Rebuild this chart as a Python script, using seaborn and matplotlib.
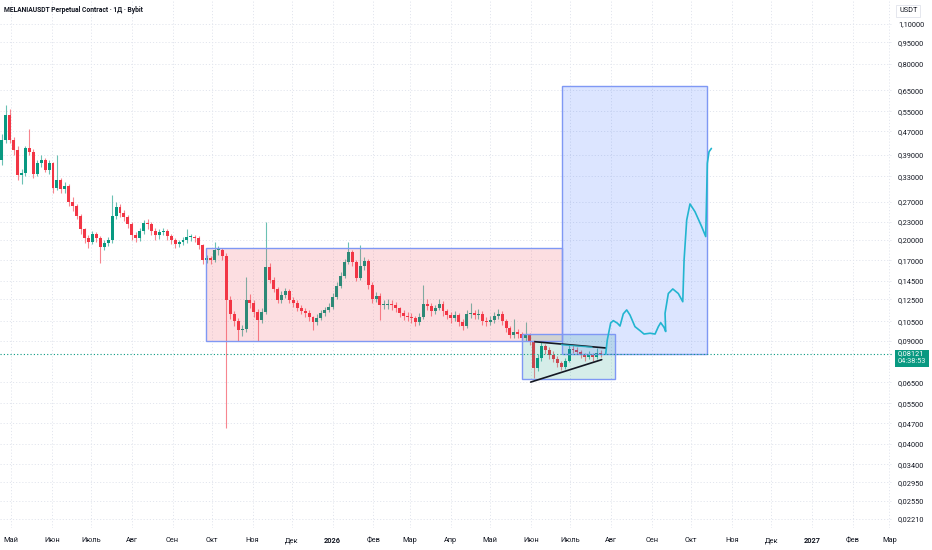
import numpy as np
import pandas as pd
import matplotlib
matplotlib.use("Agg")
import matplotlib.pyplot as plt
import matplotlib.dates as mdates
from matplotlib.patches import Rectangle
from matplotlib.ticker import FixedLocator, NullLocator
import seaborn as sns

# ---------------- data ----------------
TITLE = "MELANIAUSDT Perpetual Contract · 1Д · Bybit"
CANDLE_START = "2025-04-24"
CANDLE_STEP = "3D"
first_open = 0.375

closes = [
    0.439, 0.535, 0.439, 0.406, 0.333, 0.338, 0.412, 0.399, 0.336, 0.366,
    0.375, 0.347, 0.366, 0.301, 0.320, 0.299, 0.306, 0.270, 0.261, 0.241,
    0.217, 0.203, 0.1965, 0.209, 0.203, 0.189, 0.195, 0.1996, 0.241, 0.259,
    0.247, 0.239, 0.226, 0.2076, 0.203, 0.2145, 0.228, 0.226, 0.2145, 0.2076,
    0.213, 0.2145, 0.206, 0.1996, 0.1935, 0.1965, 0.1996, 0.2043, 0.2043, 0.203,
    0.1919, 0.1704, 0.1732, 0.1704, 0.1844, 0.1844, 0.176, 0.1244, 0.1113, 0.1054,
    0.0981, 0.0989, 0.1244, 0.1214, 0.1131, 0.1062, 0.1131, 0.1613, 0.1456, 0.1357,
    0.1244, 0.1294, 0.1336, 0.1244, 0.1214, 0.1168, 0.114, 0.1122, 0.1088, 0.1046,
    0.1079, 0.1122, 0.1149, 0.1177, 0.1274, 0.1392, 0.1503, 0.1678, 0.1815, 0.1678,
    0.148, 0.1626, 0.169, 0.140, 0.1254, 0.1284, 0.1196, 0.1196, 0.1205, 0.1196,
    0.1168, 0.1122, 0.1096, 0.1088, 0.1079, 0.1046, 0.1088, 0.1205, 0.1186, 0.114,
    0.1168, 0.1205, 0.114, 0.1105, 0.1079, 0.1105, 0.1046, 0.1013, 0.1113, 0.1122,
    0.1105, 0.1113, 0.1054, 0.1046, 0.1062, 0.1096, 0.1113, 0.1054, 0.0998, 0.0943,
    0.0966, 0.095, 0.0922, 0.0943, 0.0893, 0.0727, 0.0787, 0.0865, 0.0839, 0.0806,
    0.078, 0.0756, 0.0733, 0.0768, 0.0846, 0.0839, 0.0826, 0.0812, 0.0793, 0.0806,
    0.0793, 0.082, 0.08121,
]
highs = [
    0.46, 0.58, 0.56, 0.45, 0.42, 0.35, 0.42, 0.48, 0.41, 0.375,
    0.39, 0.38, 0.375, 0.37, 0.39, 0.325, 0.315, 0.31, 0.28, 0.265,
    0.245, 0.22, 0.207, 0.215, 0.213, 0.206, 0.2, 0.205, 0.285, 0.27,
    0.265, 0.252, 0.243, 0.23, 0.212, 0.22, 0.234, 0.235, 0.23, 0.22,
    0.218, 0.22, 0.218, 0.21, 0.203, 0.2, 0.205, 0.218, 0.21, 0.208,
    0.206, 0.194, 0.178, 0.176, 0.197, 0.19, 0.188, 0.18, 0.128, 0.114,
    0.108, 0.102, 0.149, 0.13, 0.124, 0.116, 0.117, 0.230, 0.166, 0.149,
    0.138, 0.134, 0.137, 0.136, 0.127, 0.124, 0.12, 0.117, 0.115, 0.11,
    0.111, 0.115, 0.118, 0.121, 0.131, 0.143, 0.155, 0.172, 0.1965, 0.185,
    0.17, 0.192, 0.175, 0.172, 0.143, 0.133, 0.131, 0.124, 0.125, 0.124,
    0.122, 0.118, 0.115, 0.113, 0.112, 0.11, 0.112, 0.140, 0.125, 0.121,
    0.12, 0.125, 0.123, 0.116, 0.113, 0.114, 0.112, 0.107, 0.115, 0.121,
    0.115, 0.116, 0.114, 0.109, 0.11, 0.113, 0.116, 0.114, 0.107, 0.101,
    0.107, 0.099, 0.097, 0.1046, 0.096, 0.091, 0.081, 0.089, 0.088, 0.086,
    0.083, 0.08, 0.077, 0.079, 0.087, 0.087, 0.086, 0.084, 0.082, 0.083,
    0.082, 0.085, 0.084,
]
lows = [
    0.36, 0.43, 0.43, 0.39, 0.32, 0.31, 0.33, 0.39, 0.325, 0.33,
    0.355, 0.34, 0.335, 0.29, 0.295, 0.29, 0.29, 0.262, 0.25, 0.235,
    0.21, 0.195, 0.188, 0.193, 0.196, 0.166, 0.185, 0.19, 0.195, 0.236,
    0.24, 0.232, 0.22, 0.2, 0.196, 0.198, 0.21, 0.218, 0.208, 0.2,
    0.202, 0.207, 0.2, 0.193, 0.188, 0.189, 0.192, 0.195, 0.198, 0.197,
    0.186, 0.165, 0.166, 0.165, 0.168, 0.178, 0.17, 0.0453, 0.107, 0.101,
    0.090, 0.094, 0.097, 0.117, 0.109, 0.090, 0.104, 0.111, 0.142, 0.132,
    0.121, 0.121, 0.126, 0.121, 0.118, 0.114, 0.111, 0.109, 0.105, 0.098,
    0.102, 0.106, 0.11, 0.113, 0.116, 0.125, 0.137, 0.148, 0.165, 0.163,
    0.144, 0.146, 0.158, 0.136, 0.121, 0.122, 0.106, 0.116, 0.116, 0.115,
    0.113, 0.109, 0.106, 0.105, 0.104, 0.101, 0.102, 0.107, 0.115, 0.11,
    0.111, 0.115, 0.11, 0.107, 0.104, 0.105, 0.101, 0.098, 0.1, 0.108,
    0.107, 0.107, 0.102, 0.101, 0.102, 0.104, 0.107, 0.102, 0.097, 0.092,
    0.092, 0.092, 0.089, 0.09, 0.087, 0.0672, 0.071, 0.077, 0.081, 0.078,
    0.076, 0.0735, 0.0715, 0.072, 0.076, 0.082, 0.081, 0.079, 0.077, 0.078,
    0.077, 0.078, 0.0795,
]

last_price = 0.08121
last_price_label = "0,08121"
timer_label = "04:38:53"
currency_label = "USDT"

month_labels = ["Май", "Июн", "Июль", "Авг", "Сен", "Окт", "Ноя", "Дек", "2026",
                "Фев", "Мар", "Апр", "Май", "Июн", "Июль", "Авг", "Сен", "Окт",
                "Ноя", "Дек", "2027", "Фев", "Мар"]
price_ticks = [1.10, 0.95, 0.80, 0.65, 0.55, 0.47, 0.39, 0.33, 0.27, 0.23, 0.20,
               0.17, 0.145, 0.125, 0.105, 0.09, 0.065, 0.055, 0.047, 0.040,
               0.034, 0.0295, 0.0255, 0.0221]

# drawings: (start date, end date, low price, high price)
range_box = ("2025-09-26 12:00", "2026-06-24 14:00", 0.0900, 0.187)
target_box = ("2026-06-24 14:00", "2026-10-13 00:00", 0.0812, 0.672)
pattern_box = ("2026-05-25 00:00", "2026-08-04 00:00", 0.0667, 0.095)
tri_upper_dates = ["2026-06-04", "2026-07-28"]
tri_upper_prices = [0.0895, 0.0852]
tri_lower_dates = ["2026-05-31 19:00", "2026-07-24 21:00"]
tri_lower_prices = [0.0651, 0.0777]
cyan_seg_dates = ["2026-06-24 05:00", "2026-07-17 12:00"]
cyan_seg_prices = [0.0874, 0.0857]

FORECAST_BASE = "2025-05-01"
forecast_days = [452.9, 454.1, 456.7, 458.7, 461.8, 463.8, 466.3, 468.9, 471.4,
                 475.2, 479.0, 482.1, 486.7, 490.5, 493.0, 494.8, 497.3, 498.6,
                 498.1, 500.6, 504.0, 508.2, 511.6, 512.6, 514.6, 517.1, 520.9,
                 526.0, 529.1, 530.3, 531.6, 533.4]
forecast_prices = [0.0812, 0.0907, 0.1038, 0.1057, 0.1036, 0.1013, 0.1115, 0.1150,
                   0.1105, 0.1008, 0.0977, 0.0951, 0.0957, 0.0951, 0.1008, 0.1040,
                   0.1003, 0.0970, 0.1120, 0.1309, 0.1357, 0.1309, 0.1227, 0.1704,
                   0.2337, 0.2653, 0.2496, 0.2218, 0.2051, 0.3655, 0.4004, 0.411]

# ---------------- style ----------------
sns.set_theme(style="white")
plt.rcParams['font.family'] = ['Roboto', 'DejaVu Sans']

UP = "#089981"
DOWN = "#F23645"
TXT = "#131722"
GRID = "#e3e6ee"
BORDER = "#7f98f4"
FS = 5.3

W, H = 932, 550
fig = plt.figure(figsize=(W / 100, H / 100), dpi=100)
fig.patch.set_facecolor("white")
PLOT_R = 893
PLOT_B = 528
ax = fig.add_axes([0, 1 - PLOT_B / H, PLOT_R / W, PLOT_B / H])
ax.set_facecolor("white")

ax.set_yscale("log")
ax.set_ylim(0.0206, 1.325)
ax.set_xlim(pd.Timestamp("2025-04-22 15:00"), pd.Timestamp("2027-03-03 17:00"))

# ---------------- candles ----------------
dates = pd.date_range(CANDLE_START, periods=len(closes), freq=CANDLE_STEP)
opens = [first_open] + closes[:-1]
df = pd.DataFrame({"date": dates, "open": opens, "close": closes,
                   "high": highs, "low": lows})
df["up"] = df["close"] >= df["open"]
df["color"] = np.where(df["up"], UP, DOWN)
xnum = mdates.date2num(df["date"])
body_lo = df[["open", "close"]].min(axis=1).values
body_hi = df[["open", "close"]].max(axis=1).values
body_hi = np.maximum(body_hi, body_lo * 1.006)

ax.vlines(xnum, df["low"], df["high"], colors=df["color"], linewidth=0.8,
          alpha=0.6, zorder=3)
ax.bar(xnum, body_hi - body_lo, bottom=body_lo, width=3 * 0.75,
       color=df["color"], linewidth=0, zorder=4)

# ---------------- drawings ----------------
def add_box(box, color, alpha, z):
    s, e, lo, hi = box
    x0 = mdates.date2num(pd.Timestamp(s))
    x1 = mdates.date2num(pd.Timestamp(e))
    ax.add_patch(Rectangle((x0, lo), x1 - x0, hi - lo, facecolor=color,
                           alpha=alpha, edgecolor="none", zorder=z))
    ax.add_patch(Rectangle((x0, lo), x1 - x0, hi - lo, facecolor="none",
                           edgecolor=BORDER, linewidth=1.0, zorder=z + 0.5))

add_box(range_box, DOWN, 0.16, 5)
add_box(pattern_box, UP, 0.17, 5.2)
add_box(target_box, "#2962FF", 0.16, 5.4)

ax.plot(pd.to_datetime(tri_upper_dates), tri_upper_prices, color="#131722",
        lw=1.2, zorder=7, solid_capstyle="round")
ax.plot(pd.to_datetime(tri_lower_dates), tri_lower_prices, color="#131722",
        lw=1.2, zorder=7, solid_capstyle="round")
ax.plot(pd.to_datetime(cyan_seg_dates), cyan_seg_prices, color="#26C6DA",
        lw=1.0, zorder=7.5, alpha=0.8)

fc = pd.DataFrame({
    "date": pd.Timestamp(FORECAST_BASE) + pd.to_timedelta(forecast_days, unit="D"),
    "price": forecast_prices,
})
sns.lineplot(data=fc, x="date", y="price", sort=False, ax=ax, color="#22B5D0",
             lw=1.2, zorder=8, estimator=None)
ax.lines[-1].set_solid_joinstyle("round")

# last price dotted line
ax.axhline(last_price, color=UP, lw=0.8, linestyle=(0, (1, 2)), zorder=9)

# ---------------- axes ----------------
month_starts = pd.date_range("2025-05-01", periods=len(month_labels), freq="MS")
ax.xaxis.set_major_locator(FixedLocator(mdates.date2num(month_starts)))
ax.xaxis.set_minor_locator(NullLocator())
ax.set_xticklabels(month_labels)
for lab in ax.get_xticklabels():
    lab.set_fontsize(FS)
    lab.set_color(TXT)
    if lab.get_text().startswith("20"):
        lab.set_fontweight("bold")

ax.yaxis.tick_right()
ax.yaxis.set_major_locator(FixedLocator(price_ticks))
ax.yaxis.set_minor_locator(NullLocator())
ax.set_yticklabels([f"{v:.5f}".replace(".", ",") for v in price_ticks])
for lab in ax.get_yticklabels():
    lab.set_fontsize(FS)
    lab.set_color(TXT)
    lab.set_horizontalalignment("left")

ax.tick_params(axis="x", length=0, pad=6.5)
ax.tick_params(axis="y", length=0, pad=3.5)
ax.grid(True, which="major", color=GRID, linestyle=(0, (1.2, 2)), linewidth=0.7)
ax.set_axisbelow(True)
for sp in ax.spines.values():
    sp.set_visible(False)
ax.set_xlabel("")
ax.set_ylabel("")
if ax.get_legend() is not None:
    ax.get_legend().remove()

# ---------------- header / labels ----------------
fig.text(4 / W, 1 - 10 / H, TITLE, fontsize=4.9, fontweight="bold", color=TXT,
         va="center", ha="left")
fig.text(899 / W, 1 - 11 / H, currency_label, fontsize=FS, color=TXT,
         va="center", ha="left",
         bbox=dict(boxstyle="square,pad=0.35", facecolor="white",
                   edgecolor="#e0e3eb", linewidth=0.6))

fig.canvas.draw()
y_disp = ax.transData.transform((mdates.date2num(pd.Timestamp("2026-01-01")),
                                 last_price))[1]
fig.add_artist(Rectangle((895 / W, (y_disp - 13) / H), 34 / W, 17 / H,
                         transform=fig.transFigure, facecolor=UP,
                         edgecolor="none", zorder=10))
fig.text(898 / W, (y_disp + 0.0) / H, last_price_label, fontsize=FS,
         color="white", va="center", ha="left", zorder=11)
fig.text(898 / W, (y_disp - 7.5) / H, timer_label, fontsize=FS,
         color="#e6f5f2", va="center", ha="left", zorder=11)

fig.savefig("out.png", dpi=100, facecolor="white")
